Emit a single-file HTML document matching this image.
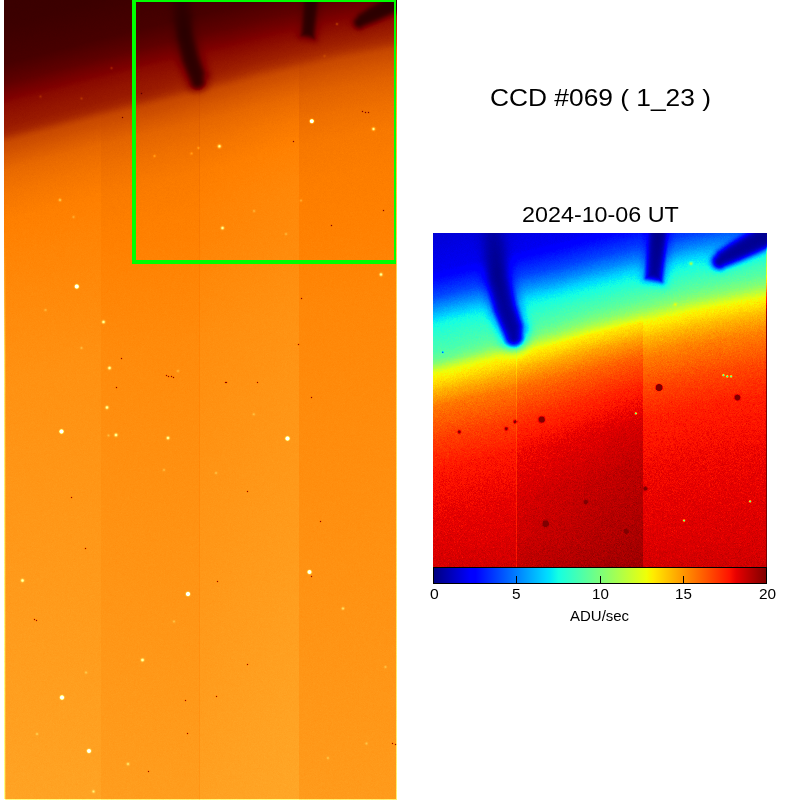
<!DOCTYPE html>
<html><head><meta charset="utf-8">
<style>
html,body{margin:0;padding:0;background:#fff;width:800px;height:800px;overflow:hidden;}
body{position:relative;font-family:"Liberation Sans",sans-serif;color:#000;}
canvas{position:absolute;display:block;}
#L{left:4px;top:0;width:393px;height:800px;
 background:linear-gradient(166.5deg,#3c0000 0.0%,#6e0000 9.4%,#912000 12.9%,#9b2800 14.7%,#c85500 15.4%,#d76400 17.3%,#eb7300 21.9%,#ff8700 31.9%,#ffa52a 100.0%);}
#R{left:433px;top:233px;width:334px;height:334px;
 background:linear-gradient(168.7deg,#0000c8 0.0%,#0040ff 10.2%,#00f0f0 21.6%,#80ff80 28.0%,#ffff00 33.1%,#ff9a00 38.2%,#ff3000 50.9%,#d00000 84.0%,#c00000 100.0%);}
.gb{position:absolute;background:#00ff00;}
#cb{position:absolute;left:433px;top:567px;width:334px;height:17px;box-sizing:border-box;border:1px solid #000;
 background:linear-gradient(90deg,#000080 0.0%,#0000b9 5.0%,#0000f3 10.0%,#0000ff 11.0%,#0000ff 12.5%,#001aff 15.0%,#004dff 20.0%,#0080ff 25.0%,#00b3ff 30.0%,#00dbff 34.0%,#00e5f7 35.0%,#00e6f7 35.0%,#15ffe2 37.5%,#29ffce 40.0%,#52ffa5 45.0%,#7bff7b 50.0%,#a5ff52 55.0%,#ceff29 60.0%,#efff08 64.0%,#f7f600 65.0%,#ffec00 66.0%,#ffc600 70.0%,#ff9700 75.0%,#ff6800 80.0%,#ff3900 85.0%,#ff1300 89.0%,#f30900 90.0%,#e80000 91.0%,#b90000 95.0%,#800000 100.0%);}
.tk{position:absolute;top:576px;width:1px;height:7px;background:#000;}
.t{position:absolute;white-space:nowrap;line-height:1;will-change:transform;}
</style></head><body>
<canvas id="L" width="393" height="800"></canvas>
<div class="gb" style="left:132px;top:0;width:4px;height:264px"></div>
<div class="gb" style="left:132px;top:0;width:264px;height:2px"></div>
<div class="gb" style="left:394px;top:0;width:2px;height:264px"></div>
<div class="gb" style="left:132px;top:260px;width:264px;height:4px"></div>
<canvas id="R" width="334" height="334"></canvas>
<div id="cb"></div>
<div class="tk" style="left:516px"></div>
<div class="tk" style="left:600px"></div>
<div class="tk" style="left:683px"></div>
<div class="t" style="left:490px;top:86px;font-size:24px;transform-origin:0 0;transform:scaleX(1.097)">CCD #069 ( 1_23 )</div>
<div class="t" style="left:522px;top:204px;font-size:22px;transform-origin:0 0;transform:scaleX(1.06)">2024-10-06 UT</div>
<div class="t" style="left:430px;top:587px;font-size:14px;transform-origin:0 0;transform:scaleX(1.12)">0</div>
<div class="t" style="left:511.5px;top:587px;font-size:14px;transform-origin:0 0;transform:scaleX(1.1)">5</div>
<div class="t" style="left:591.5px;top:587px;font-size:14px;transform-origin:0 0;transform:scaleX(1.08)">10</div>
<div class="t" style="left:675px;top:587px;font-size:14px;transform-origin:0 0;transform:scaleX(1.08)">15</div>
<div class="t" style="left:758.5px;top:587px;font-size:14px;transform-origin:0 0;transform:scaleX(1.1)">20</div>
<div class="t" style="left:570px;top:609px;font-size:14px;transform-origin:0 0;transform:scaleX(1.07)">ADU/sec</div>
<script>
(function(){
function cl(x){return x<0?0:(x>1?1:x);}
function afm(t){return [cl(2*t),cl(2*t-0.5),cl(2*t-1)];}
function interp(pts,t){
  if(t<=pts[0][0])return pts[0][1];
  for(var i=1;i<pts.length;i++){ if(t<=pts[i][0]){var a=pts[i-1],b=pts[i];return a[1]+(b[1]-a[1])*(t-a[0])/(b[0]-a[0]);} }
  return pts[pts.length-1][1];
}
var JR=[[0,0],[0.35,0],[0.66,1],[0.89,1],[1,0.5]];
var JG=[[0,0],[0.125,0],[0.375,1],[0.64,1],[0.91,0],[1,0]];
var JB=[[0,0.5],[0.11,1],[0.34,1],[0.65,0],[1,0]];
function jet(t){t=cl(t);return [interp(JR,t),interp(JG,t),interp(JB,t)];}
var seed=12345;
function rnd(){seed|=0;seed=seed+0x6D2B79F5|0;var t=Math.imul(seed^seed>>>15,1|seed);t=t+Math.imul(t^t>>>7,61|t)^t;return((t^t>>>14)>>>0)/4294967296;}
function gauss(){var u=rnd()||1e-9,v=rnd();return Math.sqrt(-2*Math.log(u))*Math.cos(6.2831853*v);}
function E(X){return 129.83-0.24192*X+0.0000836*X*X+7*Math.max(0,Math.min(1,(260-X)/256))-4.5*Math.max(0,Math.min(1,(X-230)/110));}
function logi(x){return 1/(1+Math.exp(-x));}
// polyline distance
function dseg(px,py,ax,ay,bx,by){var dx=bx-ax,dy=by-ay,l=dx*dx+dy*dy;var u=((px-ax)*dx+(py-ay)*dy)/l;u=u<0?0:(u>1?1:u);var qx=ax+u*dx-px,qy=ay+u*dy-py;return Math.sqrt(qx*qx+qy*qy);}
function dpoly(px,py,p){var m=1e9;for(var i=0;i<p.length-1;i++){var d=dseg(px,py,p[i][0],p[i][1],p[i+1][0],p[i+1][1]);if(d<m)m=d;}return m;}
// distance to polyline with varying half-width: returns (dist - hw)
function dpolyw(px,py,p){var m=1e9;for(var i=0;i<p.length-1;i++){var ax=p[i][0],ay=p[i][1],bx=p[i+1][0],by=p[i+1][1];var dx=bx-ax,dy=by-ay,l=dx*dx+dy*dy;var u=((px-ax)*dx+(py-ay)*dy)/l;u=u<0?0:(u>1?1:u);var qx=ax+u*dx-px,qy=ay+u*dy-py;var hw=p[i][2]+(p[i+1][2]-p[i][2])*u;var d=Math.sqrt(qx*qx+qy*qy)-hw;if(d<m)m=d;}return m;}
// oriented box sdf along segment a->b with half width hw (flat caps)
function dbox(px,py,ax,ay,bx,by,hw){var dx=bx-ax,dy=by-ay,L=Math.sqrt(dx*dx+dy*dy);var ux=dx/L,uy=dy/L;var rx=px-(ax+bx)/2,ry=py-(ay+by)/2;var along=Math.abs(rx*ux+ry*uy)-L/2;var perp=Math.abs(-rx*uy+ry*ux)-hw;var ox=Math.max(along,0),oy=Math.max(perp,0);return Math.sqrt(ox*ox+oy*oy)+Math.min(Math.max(along,perp),0);}
var A1=[[181,-15,6.5],[181.2,0,6.8],[184.8,35.3,7.8],[190.6,58.8,8.4],[196.2,74,7.9],[197.5,81.5,6.5]];
var A3=[[414,-9,8.3],[397,1.8,8.0],[385,8.3,7.5],[372,14.8,6.8],[363,19.5,5.8],[359.5,22.3,4.8]];
function sh(d,bl,hs,hr){var core=logi((1.0-d)/bl);var halo=d>0?Math.exp(-d*d/(2*hr*hr)):1;return Math.max(core,hs*halo);}
function shadow(X,Y){
  var d1=dpolyw(X,Y,A1);
  var k=cl(Y/70);
  var s1=sh(d1,2.9-1.1*k,0.3,4.5)*(0.72+0.28*cl(Y/30));
  var rx=X-311.0,ry=Y;var dp=Math.abs(rx*0.9960-ry*(-0.0893))-6.0;var dc=(X-300.7)*(-0.2028)+(Y-35.0)*0.9792;var d2=Math.sqrt(Math.max(dp,0)*Math.max(dp,0)+Math.max(dc,0)*Math.max(dc,0))+Math.min(Math.max(dp,dc),0);
  var s2=sh(d2,1.5,0.25,4);
  var d3=dpolyw(X,Y,A3);
  var s3=sh(d3,1.5,0.12,4);
  var ex=(X-202)/5.5,ey=(Y-76)/6.5;var s4=0.5*Math.exp(-(ex*ex+ey*ey)/2);
  return Math.max(s1,s2,s3,s4);
}
var STARS=[[111.5,68,3.5,1.0],[40.5,96.5,2.5,0.9],[81.5,98.5,2.5,0.9],[311.8,121.2,70,1.0],[373.5,129,14,1.05],[219.4,146.3,14,1.15],[222.5,228,14,1.05],[198.5,148,4,0.9],[191.5,153.5,4,0.9],[154.5,156,4,0.9],[254,211,4,0.9],[286,234,4,0.9],[301,200.5,4,0.9],[337,24,4,0.9],[324.5,56,2,0.9],[60,200,7,1.0],[76.75,286.5,70,1.0],[103.5,322,14,1.05],[109.5,368,14,1.05],[45.5,310,4,0.9],[73.5,217,4,0.9],[81.5,348,4,0.9],[178,371,4,0.9],[381,274.5,14,1.05],[61.5,431.5,70,1.0],[107,407.5,14,1.05],[116,435,14,1.05],[108.5,435.5,4,0.9],[168,438,14,1.05],[164,470,4,0.9],[22.5,580.5,14,1.05],[188,594,70,1.0],[287.5,438.5,70,1.0],[309.5,572,55,1.0],[253.75,414.25,4,0.9],[216,473,4,0.9],[62,697.5,70,1.0],[89,751,55,1.0],[142.5,660,14,1.05],[86,672.5,4,0.9],[128,764,7,1.0],[93.5,791.5,7,1.0],[174,621.5,4,0.9],[37,734,4,0.9],[343,608.5,7,1.0],[366.5,743.5,4,0.9],[385.5,667,4,0.9],[328,758,4,0.9]];
var DARK=[[141.5,93.5],[121.5,358.5],[166.5,375.5],[168.5,376.5],[171.5,376.5],[173.5,377.5],[116.5,387.5],[383.5,210.5],[331.5,225.5],[298.5,344.5],[301.5,298.5],[226.5,382.5],[225.5,382.5],[257.5,382.5],[311.5,397.5],[85.5,548.5],[71.5,497.5],[247.5,491.5],[217.5,581.5],[320.5,521.5],[311.5,576.5],[34.5,619.5],[36.5,620.5],[148.5,771.5],[187.5,733.5],[185.5,700.5],[247.5,664.5],[216.5,696.5],[392.5,743.5],[395.5,744.5],[293.5,141.5],[362.5,111.5],[365.5,112.5],[368.5,112.5],[122.5,117.5]];
function colgain(X){ if(X<101) return 1.0; if(X<200) return 0.975; if(X<299) return 0.99+0.025*(X-200)/99; return 0.965; }
var PTL=[[-130,1.25],[-110,1.35],[-72,2.0],[-52,3.9],[-40,5.9],[-31,7.4],[-20,8.2],[-9,8.8],[-3,9.5],[0,10.2],[4,11.6],[8,12.9],[14.5,13.6],[22,14.6],[34,16],[43,16.5],[59,17.3],[85,18.2],[124,18.7],[173,19.0],[250,19.4]];
var PTR=[[-130,1.25],[-110,1.35],[-72,2.0],[-52,3.7],[-42,4.9],[-34.5,6.3],[-26.7,7.4],[-19,8.4],[-11,9.4],[-3,10.8],[2.3,12],[7,13.2],[12.5,13.8],[20,14.8],[28,15.4],[36,16],[43,16.4],[59,17.3],[85,18.2],[124,18.7],[173,19.0],[250,19.4]];
function field(X,Y){
  var d=Y-E(X);
  var wl=0.45+0.55*cl((253-X)/103);var v=wl*interp(PTL,d)+(1-wl)*interp(PTR,d)+(Y>240?(Y-240)*2.1/560:0);
  var g=colgain(X);v*=1+(g-1)*cl((v-9)/8);
  if(X<5) v*=1+0.38*cl((Y-230)/130); else if(X<6) v*=1+0.1*cl((Y-230)/130); if(X>396||Y>799) v*=1.35;
  if(Y>86&&Math.abs(X-199.8)<0.45) v*=0.965;
  var s=shadow(X,Y);
  v*=(1-0.95*s);
  for(var i=0;i<STARS.length;i++){var st=STARS[i];var dx=X-st[0],dy=Y-st[1];var r2=dx*dx+dy*dy;if(r2<64)v+=st[2]*Math.exp(-r2/(2*st[3]*st[3]));}
  for(var i=0;i<DARK.length;i++){var st=DARK[i];var dx=X-st[0],dy=Y-st[1];var r2=dx*dx+dy*dy;if(r2<9)v*=1-0.62*Math.exp(-r2/(0.5));}
  return v;
}
// left
var cL=document.getElementById('L'),xL=cL.getContext('2d'),iL=xL.createImageData(393,800),dL=iL.data;
var LM=[[-3,0],[0.2,0.08],[1.0,0.105],[2,0.14],[5,0.215],[8,0.282],[12,0.377],[15,0.432],[18.5,0.505],[22,0.58],[40,1.0]];
for(var y=0;y<800;y++){for(var x=0;x<393;x++){
  var X=x+4.5,Y=y+0.5;
  var v=field(X,Y);v+=gauss()*0.03*Math.sqrt(Math.max(v,0.1));
  var c=afm(interp(LM,v));var k=(y*393+x)*4;
  dL[k]=c[0]*255;dL[k+1]=c[1]*255;dL[k+2]=c[2]*255;dL[k+3]=255;
}}
xL.putImageData(iL,0,0);
// right
var cR=document.getElementById('R'),xR=cR.getContext('2d'),iR=xR.createImageData(334,334),dR=iR.data;
var sc=1/1.275,scx=1/1.27;
for(var y=0;y<334;y++){for(var x=0;x<334;x++){
  var X=133.8+(x+0.5)*scx,Y=(y+0.5)*sc;
  var v=field(X,Y);v+=gauss()*0.04*Math.sqrt(Math.max(v,0.1));
  var c=jet(v/20);var k=(y*334+x)*4;
  dR[k]=c[0]*255;dR[k+1]=c[1]*255;dR[k+2]=c[2]*255;dR[k+3]=255;
}}
xR.putImageData(iR,0,0);
})();
</script>
</body></html>
